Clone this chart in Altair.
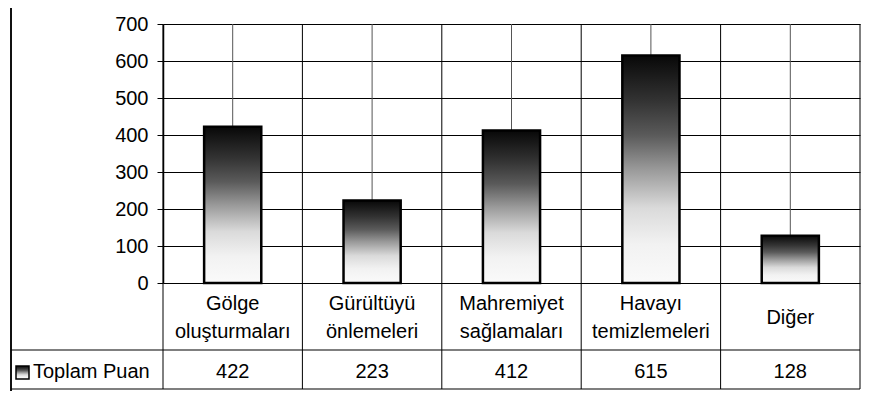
import altair as alt
import pandas as pd

categories = ["Gölge\noluşturmaları", "Gürültüyü\nönlemeleri", "Mahremiyet\nsağlamaları",
              "Havayı\ntemizlemeleri", "Diğer"]
values = [422, 223, 412, 615, 128]
series_name = "Toplam Puan"
y_ticks = [0, 100, 200, 300, 400, 500, 600, 700]

df = pd.DataFrame({"i": list(range(len(categories))), "label": categories, "value": values})
bounds = pd.DataFrame({"b": list(range(len(categories) + 1))})

FONT = "Liberation Sans"
FS = 20
W, H = 697, 259
ROW1 = 326   # bottom of the category-label row (plot coords)
ROW2 = 365   # bottom of the value row
LEFT = -152  # left edge of the table / frame
PB = 108     # bottom padding

xs = alt.Scale(domain=[0, len(categories)])
ys = alt.Scale(domain=[0, 700])

grad = alt.Gradient(
    gradient="linear",
    stops=[alt.GradientStop(color="#080808", offset=0),
           alt.GradientStop(color="#333333", offset=0.2),
           alt.GradientStop(color="#5a5a5a", offset=0.35),
           alt.GradientStop(color="#999999", offset=0.5),
           alt.GradientStop(color="#dadada", offset=0.67),
           alt.GradientStop(color="#f2f2f2", offset=0.83),
           alt.GradientStop(color="#fafafa", offset=1)],
    x1=0, x2=0, y1=0, y2=1,
)

base = alt.Chart(df)
one = base.transform_filter("datum.i == 0")

frame_left = one.mark_rule(color="#111111", strokeWidth=2).encode(
    x=alt.value(LEFT), y=alt.value(-22), y2=alt.value(H + PB))
frame_top = one.mark_rule(color="#8a8a8a", strokeWidth=2).encode(
    x=alt.value(LEFT), x2=alt.value(W + 1), y=alt.value(-22))

centers = base.transform_calculate(c="datum.i + 0.5").mark_rule(color="#555555", strokeWidth=1).encode(
    x=alt.X("c:Q", scale=xs, axis=None), y=alt.value(0), y2=alt.value(H)
)

bounds_rules = alt.Chart(bounds).mark_rule(color="#000000", strokeWidth=1).encode(
    x=alt.X("b:Q", scale=xs, axis=None), y=alt.value(0), y2=alt.value(ROW2)
)

bars = base.transform_calculate(x0="datum.i + 0.295", x1="datum.i + 0.705").mark_bar(
    color=grad, stroke="#000000", strokeWidth=2.5
).encode(
    x=alt.X("x0:Q", scale=xs, axis=None),
    x2="x1:Q",
    y=alt.Y("value:Q", scale=ys, axis=alt.Axis(
        values=y_ticks, grid=True, gridColor="#000000", gridOpacity=1, gridWidth=1,
        tickSize=6, tickColor="#000000", domainColor="#000000", domainWidth=1.5,
        labelFont=FONT, labelFontSize=FS, labelColor="#000000", labelPadding=9, title=None)),
    y2=alt.datum(0),
)

hlines = one.mark_rule(color="#000000", strokeWidth=1.2).encode(
    x=alt.value(LEFT), x2=alt.value(W), y=alt.value(ROW1))
hlines2 = one.mark_rule(color="#000000", strokeWidth=1.2).encode(
    x=alt.value(LEFT), x2=alt.value(W), y=alt.value(ROW2))

cat_multi = base.transform_filter("indexof(datum.label, '\\n') >= 0").transform_calculate(
    c="datum.i + 0.5").mark_text(
    font=FONT, fontSize=FS, color="#000000", lineBreak="\n", lineHeight=28,
    align="center", baseline="alphabetic"
).encode(x=alt.X("c:Q", scale=xs, axis=None), y=alt.value(286), text="label:N")

cat_single = base.transform_filter("indexof(datum.label, '\\n') < 0").transform_calculate(
    c="datum.i + 0.5").mark_text(
    font=FONT, fontSize=FS, color="#000000", align="center", baseline="alphabetic"
).encode(x=alt.X("c:Q", scale=xs, axis=None), y=alt.value(300), text="label:N")

val_text = base.transform_calculate(c="datum.i + 0.5").mark_text(
    font=FONT, fontSize=FS, color="#000000", align="center", baseline="alphabetic"
).encode(x=alt.X("c:Q", scale=xs, axis=None), y=alt.value(354), text="value:Q")

legend_sq = one.mark_rect(fill=grad, stroke="#000000", strokeWidth=1.5).encode(
    x=alt.value(LEFT + 5), x2=alt.value(LEFT + 18), y=alt.value(ROW1 + 16), y2=alt.value(ROW1 + 29))

legend_txt = one.transform_calculate(n=f"'{series_name}'").mark_text(
    font=FONT, fontSize=FS, color="#000000", align="left", baseline="alphabetic"
).encode(x=alt.value(LEFT + 22), y=alt.value(354), text="n:N")

chart = alt.layer(
    frame_left, frame_top, centers, bars, bounds_rules, hlines, hlines2,
    cat_multi, cat_single, val_text, legend_sq, legend_txt
).properties(
    width=W, height=H,
    autosize=alt.AutoSizeParams(type="none"),
    padding={"left": 155, "top": 16, "right": 1, "bottom": PB},
    background="#ffffff",
).configure_view(stroke=None)

chart.save("out.html", embed_options={"renderer": "svg", "actions": False})
